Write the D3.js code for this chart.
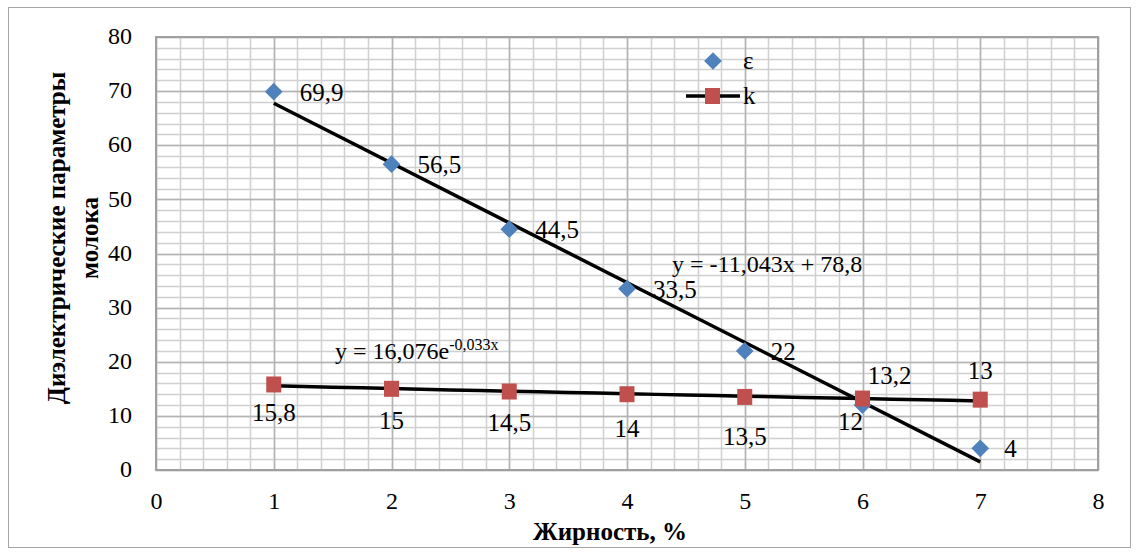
<!DOCTYPE html>
<html>
<head>
<meta charset="utf-8">
<script src="https://cdn.jsdelivr.net/npm/d3@7"></script>
<style>
  body { margin: 0; background: #fff; }
</style>
</head>
<body>
<svg id="chart"></svg>
<script>
// fat content, %
const fat = [1, 2, 3, 4, 5, 6, 7];
const epsValues = [69.9, 56.5, 44.5, 33.5, 22, 12, 4];
const kValues = [15.8, 15, 14.5, 14, 13.5, 13.2, 13];
const epsLabels = ["69,9", "56,5", "44,5", "33,5", "22", "12", "4"];
const kLabels = ["15,8", "15", "14,5", "14", "13,5", "13,2", "13"];
const xTicks = [0, 1, 2, 3, 4, 5, 6, 7, 8];
const yTicks = [0, 10, 20, 30, 40, 50, 60, 70, 80];
// trendline coefficients shown on the chart
const linTrend = { a: -11.043, b: 78.8 };
const expTrend = { a: 16.076, b: -0.033 };

var width = 1139, height = 555;
var margin = ({ top: 37, right: 41, bottom: 85, left: 156 });
var serif = "Liberation Serif";

var svg = d3.select('#chart')
  .attr('width', width)
  .attr('height', height)
  .attr('font-family', serif);

// outer chart frame
svg.append('rect')
  .attr('x', 8.5).attr('y', 7.5)
  .attr('width', width - 17).attr('height', height - 15)
  .attr('fill', 'none').attr('stroke', '#a6a6a6').attr('stroke-width', 1);

var x = d3.scaleLinear().domain([0, 8]).range([margin.left, width - margin.right]);
var y = d3.scaleLinear().domain([0, 80]).range([height - margin.bottom, margin.top]);

// minor grid
var grid = svg.append('g');
grid.selectAll('line.mx')
  .data(d3.range(0, 8.01, 0.2))
  .join('line')
  .attr('x1', d => Math.round(x(d)) + 0.5).attr('x2', d => Math.round(x(d)) + 0.5)
  .attr('y1', y(0)).attr('y2', y(80))
  .attr('stroke', '#d0d0d0').attr('stroke-width', 1.5);
grid.selectAll('line.my')
  .data(d3.range(0, 80.01, 2))
  .join('line')
  .attr('y1', d => Math.round(y(d)) + 0.5).attr('y2', d => Math.round(y(d)) + 0.5)
  .attr('x1', x(0)).attr('x2', x(8))
  .attr('stroke', '#d0d0d0').attr('stroke-width', 1.5);
// major grid
grid.selectAll('line.Mx')
  .data(xTicks)
  .join('line')
  .attr('x1', d => Math.round(x(d)) + 0.5).attr('x2', d => Math.round(x(d)) + 0.5)
  .attr('y1', y(0)).attr('y2', y(80))
  .attr('stroke', '#b4b4b4').attr('stroke-width', 1.5);
grid.selectAll('line.My')
  .data(yTicks)
  .join('line')
  .attr('y1', d => Math.round(y(d)) + 0.5).attr('y2', d => Math.round(y(d)) + 0.5)
  .attr('x1', x(0)).attr('x2', x(8))
  .attr('stroke', '#b4b4b4').attr('stroke-width', 1.5);
svg.append('rect')
  .attr('x', x(0)).attr('y', y(80))
  .attr('width', x(8) - x(0)).attr('height', y(0) - y(80))
  .attr('fill', 'none').attr('stroke', '#a0a0a0').attr('stroke-width', 2);

// axes (labels only)
var xAxis = svg.append('g')
  .attr('transform', `translate(0,${y(0) + 18})`)
  .call(d3.axisBottom(x).tickValues(xTicks).tickSize(0).tickPadding(4));
var yAxis = svg.append('g')
  .attr('transform', `translate(${x(0) - 24},0)`)
  .call(d3.axisLeft(y).tickValues(yTicks).tickSize(0).tickPadding(0));
[xAxis, yAxis].forEach(a => {
  a.attr('font-family', serif).attr('font-size', 24);
  a.select('.domain').remove();
  a.selectAll('text').attr('fill', '#000');
});
yAxis.selectAll('text').attr('dy', '0.28em');

// axis titles
svg.append('text')
  .attr('x', 610).attr('y', 540)
  .attr('text-anchor', 'middle')
  .attr('font-size', 25).attr('font-weight', 'bold')
  .text('Жирность, %');
var yt = svg.append('text')
  .attr('transform', 'translate(65,238) rotate(-90)')
  .attr('text-anchor', 'middle')
  .attr('font-size', 25).attr('font-weight', 'bold');
yt.append('tspan').attr('x', 0).attr('dy', 0).text('Диэлектрические параметры');
yt.append('tspan').attr('x', 0).attr('dy', 33).text('молока');

// trendlines
var line = d3.line().x(d => x(d[0])).y(d => y(d[1]));
var linPts = [fat[0], fat[fat.length - 1]].map(v => [v, linTrend.a * v + linTrend.b]);
var expPts = d3.range(fat[0], fat[fat.length - 1] + 0.001, 0.25).map(v => [v, expTrend.a * Math.exp(expTrend.b * v)]);
svg.append('path').datum(linPts).attr('d', line)
  .attr('fill', 'none').attr('stroke', '#000').attr('stroke-width', 3.5);
svg.append('path').datum(expPts).attr('d', line)
  .attr('fill', 'none').attr('stroke', '#000').attr('stroke-width', 3.5);

// markers
var diamond = d3.symbol().type(d3.symbolDiamond2).size(200);
svg.append('g').selectAll('path')
  .data(fat.map((v, i) => [v, epsValues[i]]))
  .join('path')
  .attr('transform', d => `translate(${x(d[0])},${y(d[1])})`)
  .attr('d', diamond)
  .attr('fill', '#4f81bd');
svg.append('g').selectAll('rect')
  .data(fat.map((v, i) => [v, kValues[i]]))
  .join('rect')
  .attr('x', d => x(d[0]) - 7.5).attr('y', d => y(d[1]) - 8)
  .attr('width', 15).attr('height', 16)
  .attr('fill', '#c0504d');

// data labels
var epsOff = [[26, 9], [26, 9], [26, 9], [26, 9], [26, 9], [-12, 25], [24, 9]];
var kOff = [[0, 37], [0, 40], [0, 39], [0, 43], [0, 48], [27, -15], [0, -21]];
svg.append('g').selectAll('text')
  .data(epsLabels)
  .join('text')
  .attr('x', (d, i) => x(fat[i]) + epsOff[i][0])
  .attr('y', (d, i) => y(epsValues[i]) + epsOff[i][1])
  .attr('text-anchor', (d, i) => i === 5 ? 'middle' : 'start')
  .attr('font-size', 25)
  .text(d => d);
svg.append('g').selectAll('text')
  .data(kLabels)
  .join('text')
  .attr('x', (d, i) => x(fat[i]) + kOff[i][0])
  .attr('y', (d, i) => y(kValues[i]) + kOff[i][1])
  .attr('text-anchor', 'middle')
  .attr('font-size', 25)
  .text(d => d);

// trendline equations
svg.append('text')
  .attr('x', 672).attr('y', 272)
  .attr('font-size', 24)
  .text('y = -11,043x + 78,8');
var et = svg.append('text')
  .attr('x', 335).attr('y', 359)
  .attr('font-size', 24);
et.append('tspan').text('y = 16,076e');
et.append('tspan').attr('dy', -9).attr('font-size', 16).text('-0,033x');

// legend
var lg = svg.append('g');
lg.append('path')
  .attr('transform', 'translate(713,61)')
  .attr('d', diamond).attr('fill', '#4f81bd');
lg.append('text').attr('x', 743).attr('y', 69).attr('font-size', 25).text('ε');
lg.append('line')
  .attr('x1', 686).attr('x2', 740).attr('y1', 96).attr('y2', 96)
  .attr('stroke', '#000').attr('stroke-width', 3.5);
lg.append('rect')
  .attr('x', 705).attr('y', 88).attr('width', 15).attr('height', 16)
  .attr('fill', '#c0504d');
lg.append('text').attr('x', 743).attr('y', 104).attr('font-size', 25).text('k');
</script>
</body>
</html>
